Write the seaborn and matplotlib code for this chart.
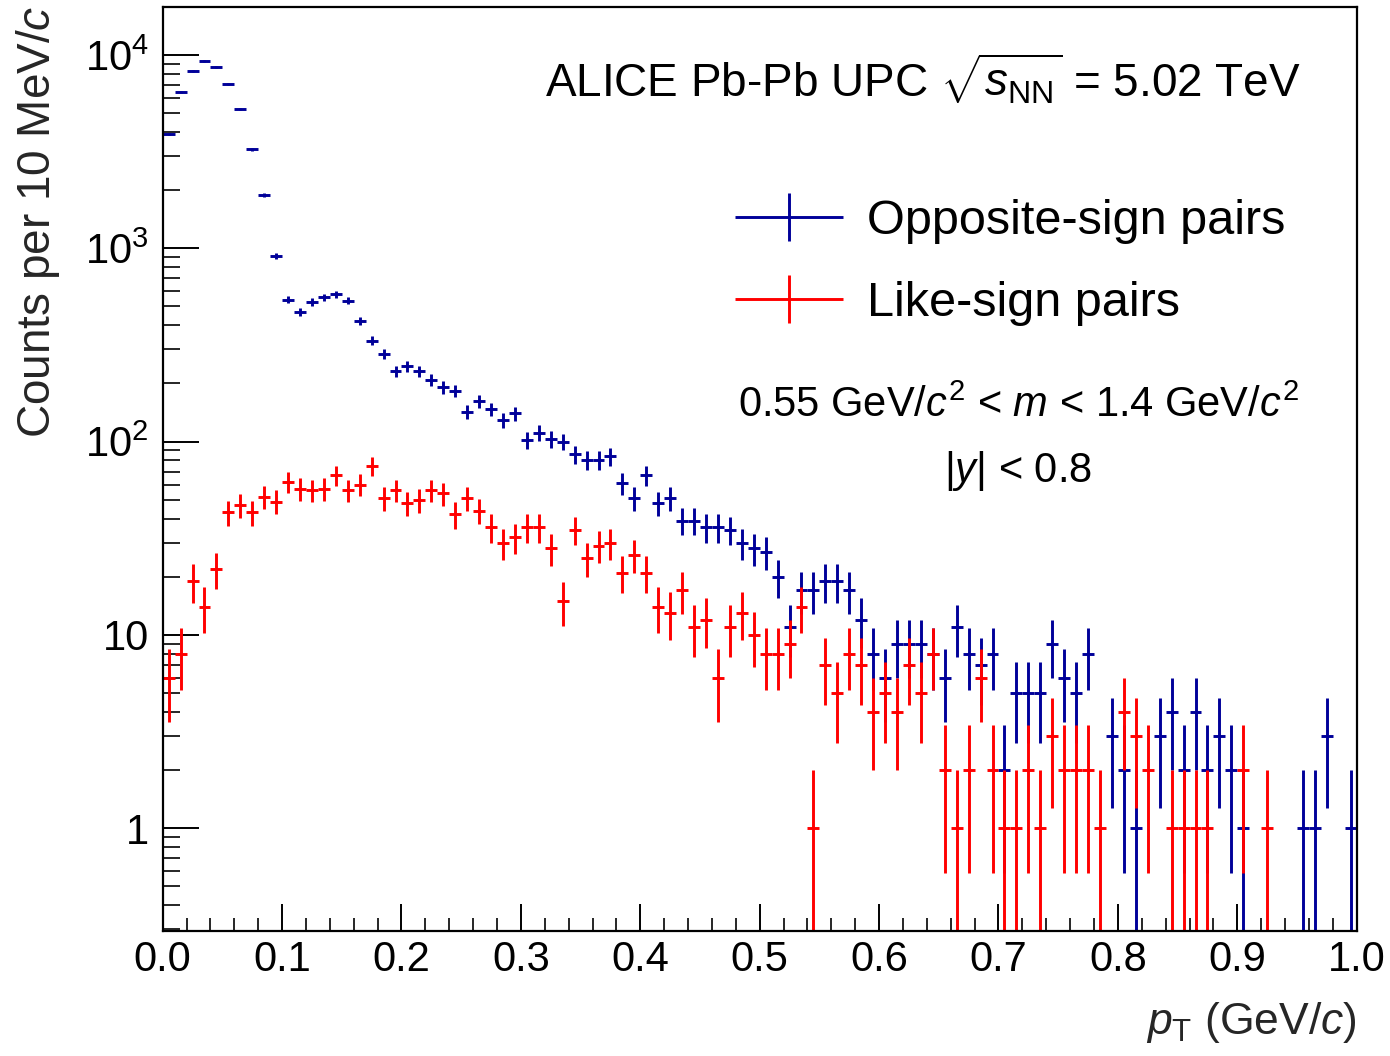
import numpy as np
import pandas as pd
import matplotlib
matplotlib.use("Agg")
import matplotlib.pyplot as plt
import seaborn as sns
from matplotlib.ticker import MultipleLocator, FixedLocator, FixedFormatter, FormatStrFormatter, LogLocator, NullFormatter
from matplotlib.container import ErrorbarContainer
from matplotlib.legend_handler import HandlerErrorbar

nan = np.nan

# pT histogram, 100 bins of 10 MeV/c from 0 to 1 GeV/c
bin_width = 0.01
n_bins = 100

# counts per bin, opposite-sign pairs
opposite_sign = [
    3900, 6400, 8300, 9300, 8650, 7050, 5250, 3250, 1890, 910,
    542, 468, 527, 558, 578, 536, 421, 333, 284, 232,
    246, 232, 208, 191, 183, 143, 162, 147, 129, 140,
    102, 111, 103, 100, 86, 80, 80, 84, 61, 51,
    67, 48, 51, 39, 39, 36, 36, 35, 30, 28,
    27, 20, 11, 17, 17, 19, 19, 17, 12, 8,
    6, 9, 9, 9, 8, 6, 11, 8, 7, 8,
    2, 5, 5, 5, 9, 6, 5, 8, nan, 3,
    2, 1, nan, 3, 4, 2, 4, 2, 3, 2,
    1, nan, nan, nan, nan, 1, 1, 3, nan, 1,
]

# counts per bin, like-sign pairs
like_sign = [
    6, 8, 19, 14, 22, 43, 47, 43, 52, 49,
    62, 57, 56, 57, 67, 56, 60, 75, 51, 56,
    48, 50, 56, 54, 42, 51, 44, 36, 30, 32,
    36, 36, 28, 15, 35, 25, 29, 30, 21, 26,
    21, 14, 13, 17, 11, 12, 6, 11, 13, 10,
    8, 8, 9, 14, 1, 7, 5, 8, 7, 4,
    5, 4, 7, 5, 8, 2, 1, 2, 6, 2,
    1, 1, 2, 1, 3, 2, 2, 2, 1, nan,
    4, 3, 2, nan, 1, 1, 1, 1, nan, nan,
    2, nan, 1, nan, nan, nan, nan, nan, nan, nan,
]

x_ticks = [0.0, 0.1, 0.2, 0.3, 0.4, 0.5, 0.6, 0.7, 0.8, 0.9, 1.0]
y_ticks = [1, 10, 100, 1000, 10000]
y_ticklabels = ["1", "10", r"$10^{2}$", r"$10^{3}$", r"$10^{4}$"]

blue = "#000099"
red = "#ff0000"

pt = np.arange(n_bins) * bin_width + bin_width / 2
df = pd.DataFrame({"pt": pt, "os": opposite_sign, "ls": like_sign})

sns.set_theme(style="ticks")
plt.rcParams["font.family"] = ["Liberation Sans", "DejaVu Sans"]
plt.rcParams["mathtext.fontset"] = "custom"
plt.rcParams["mathtext.rm"] = "Liberation Sans"
plt.rcParams["mathtext.it"] = "Liberation Sans:italic"
plt.rcParams["mathtext.bf"] = "Liberation Sans:bold"
plt.rcParams["text.color"] = "black"

fig = plt.figure(figsize=(13.9, 10.56), dpi=100)
ax = fig.add_axes([0.11705, 0.11884, 0.85899, 0.87453])
ax.set_yscale("log")


def draw(col, color):
    n = df[col].to_numpy(dtype=float)
    err = np.sqrt(n)
    lo = np.where(n - err <= 0, n, err)
    return ax.errorbar(df["pt"], n, xerr=bin_width / 2, yerr=[lo, err],
                       fmt="none", ecolor=color, elinewidth=2.1, capsize=0)


eb_os = draw("os", blue)
eb_ls = draw("ls", red)

ax.set_xlim(0, 1.0)
ax.set_ylim(0.296, 17700)

ax.xaxis.set_major_locator(FixedLocator(x_ticks))
ax.xaxis.set_minor_locator(MultipleLocator(0.02))
ax.xaxis.set_major_formatter(FormatStrFormatter("%.1f"))
ax.yaxis.set_major_locator(FixedLocator(y_ticks))
ax.yaxis.set_major_formatter(FixedFormatter(y_ticklabels))
ax.yaxis.set_minor_locator(LogLocator(base=10, subs=np.arange(2, 10)))
ax.yaxis.set_minor_formatter(NullFormatter())

ax.tick_params(axis="x", which="major", direction="in", length=19.5, width=1.4,
               labelsize=30, pad=7, top=False, colors="black")
ax.tick_params(axis="x", which="minor", direction="in", length=9.5, width=1.4, top=False)
ax.tick_params(axis="y", which="major", direction="in", length=25.7, width=1.4,
               labelsize=30, pad=10, right=False, colors="black")
ax.tick_params(axis="y", which="minor", direction="in", length=12.3, width=1.4, right=False)

for s in ax.spines.values():
    s.set_linewidth(1.6)
    s.set_color("black")

ax.set_xlabel(r"$p_{\mathrm{T}}$ (GeV/$c$)", fontsize=32, loc="right")
ax.xaxis.set_label_coords(1.0, -0.075)
ax.set_ylabel(r"Counts per 10 MeV/$c$", fontsize=33, loc="top")
ax.yaxis.set_label_coords(-0.084, 1.002)

ax.text(0.953, 0.9029, r"ALICE Pb-Pb UPC $\sqrt{s_{\mathrm{NN}}}$ = 5.02 TeV",
        transform=ax.transAxes, ha="right", va="baseline", fontsize=33)
ax.text(0.7163, 0.5564, r"0.55 GeV/$c^{2}$ < $m$ < 1.4 GeV/$c^{2}$",
        transform=ax.transAxes, ha="center", va="baseline", fontsize=30)
ax.text(0.7163, 0.486, r"$|y|$ < 0.8",
        transform=ax.transAxes, ha="center", va="baseline", fontsize=30)

leg = ax.legend([eb_os, eb_ls], ["Opposite-sign pairs", "Like-sign pairs"],
                handler_map={ErrorbarContainer: HandlerErrorbar(xerr_size=1.11, yerr_size=0.49, numpoints=1)},
                loc="upper left", bbox_to_anchor=(735 / 1390, 1 - 199 / 1056),
                bbox_transform=fig.transFigure, frameon=False, fontsize=35,
                handlelength=2.22, handletextpad=0.5, borderpad=0, borderaxespad=0,
                labelspacing=0.76)

fig.savefig("out.png", dpi=100)
